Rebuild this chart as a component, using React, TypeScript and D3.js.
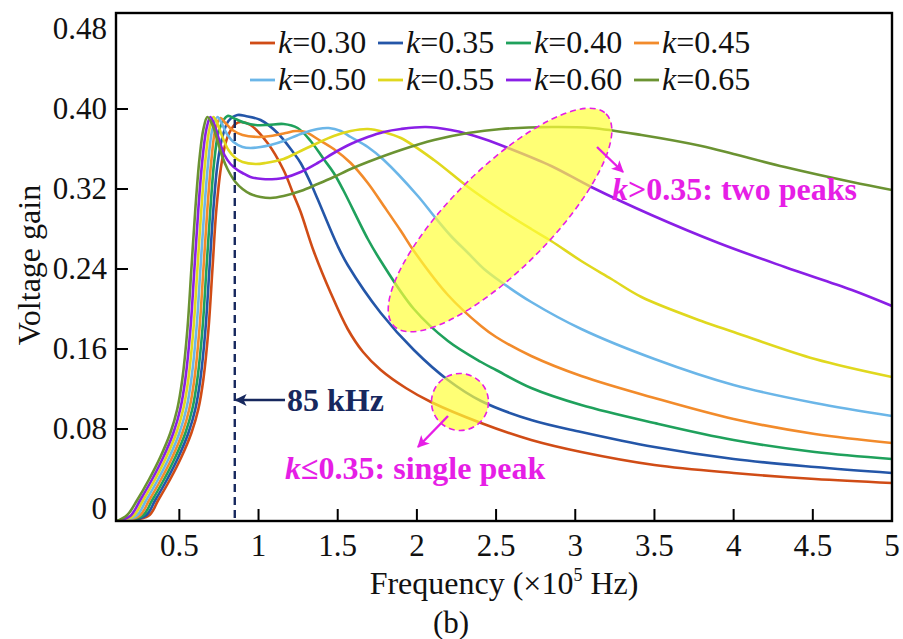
import React from 'react';
import * as d3 from 'd3';

// Voltage gain vs. frequency (×10^5 Hz) for several coupling coefficients k.

const WIDTH = 903;
const HEIGHT = 639;

const kValues = ['0.30', '0.35', '0.40', '0.45', '0.50', '0.55', '0.60', '0.65'];
const lineColors = ['#d04c16', '#2456a8', '#1fa15c', '#f28b2b', '#6bb6e8', '#e0d81e', '#8a1fe6', '#6b9332'];

type Pt = [number, number];

const gainK030: Pt[] = [
  [0.108, -0.012], [0.304, -0.007], [0.367, 0.009], [0.443, 0.03], [0.513, 0.052], [0.576, 0.076],
  [0.62, 0.1], [0.652, 0.13], [0.684, 0.18], [0.709, 0.24], [0.734, 0.3], [0.766, 0.345],
  [0.804, 0.372], [0.854, 0.385], [0.886, 0.387], [0.949, 0.384], [1.057, 0.366], [1.158, 0.339],
  [1.222, 0.314], [1.266, 0.297], [1.348, 0.258], [1.456, 0.216], [1.563, 0.18], [1.66, 0.157],
  [1.772, 0.139], [1.93, 0.121], [2.089, 0.107], [2.405, 0.086], [2.722, 0.069], [3.038, 0.057],
  [3.5, 0.044], [4.0, 0.036], [4.513, 0.03], [5.0, 0.026],
];

const gainK035: Pt[] = [
  [0.108, -0.012], [0.285, -0.007], [0.348, 0.009], [0.424, 0.03], [0.494, 0.052], [0.557, 0.076],
  [0.601, 0.1], [0.633, 0.13], [0.665, 0.18], [0.69, 0.24], [0.715, 0.3], [0.741, 0.345],
  [0.772, 0.372], [0.81, 0.388], [0.867, 0.394], [0.918, 0.393], [1.013, 0.389], [1.12, 0.376],
  [1.222, 0.356], [1.266, 0.346], [1.329, 0.326], [1.373, 0.31], [1.5, 0.263], [1.563, 0.244],
  [1.772, 0.196], [1.981, 0.159], [2.196, 0.129], [2.405, 0.108], [2.722, 0.089], [3.038, 0.077],
  [3.5, 0.062], [4.0, 0.05], [4.513, 0.042], [5.0, 0.036],
];

const gainK040: Pt[] = [
  [0.108, -0.012], [0.266, -0.007], [0.329, 0.009], [0.405, 0.03], [0.475, 0.052], [0.538, 0.076],
  [0.582, 0.1], [0.614, 0.13], [0.646, 0.18], [0.671, 0.24], [0.696, 0.3], [0.722, 0.35],
  [0.753, 0.38], [0.804, 0.393], [0.854, 0.39], [0.918, 0.386], [0.981, 0.384], [1.057, 0.384],
  [1.158, 0.385], [1.247, 0.381], [1.329, 0.368], [1.411, 0.35], [1.475, 0.336], [1.538, 0.318],
  [1.69, 0.27], [1.772, 0.248], [1.981, 0.2], [2.196, 0.168], [2.405, 0.147], [2.5, 0.139],
  [2.722, 0.121], [3.038, 0.104], [3.5, 0.086], [4.0, 0.069], [4.513, 0.057], [5.0, 0.05],
];

const gainK045: Pt[] = [
  [0.108, -0.012], [0.247, -0.007], [0.31, 0.009], [0.386, 0.03], [0.456, 0.052], [0.519, 0.076],
  [0.563, 0.1], [0.595, 0.13], [0.627, 0.18], [0.652, 0.24], [0.677, 0.3], [0.703, 0.35],
  [0.728, 0.38], [0.759, 0.391], [0.791, 0.386], [0.835, 0.379], [0.899, 0.374], [1.0, 0.372],
  [1.076, 0.373], [1.171, 0.376], [1.234, 0.378], [1.297, 0.377], [1.373, 0.37], [1.475, 0.36],
  [1.582, 0.346], [1.69, 0.326], [1.791, 0.303], [1.899, 0.278], [1.981, 0.258], [2.196, 0.214],
  [2.405, 0.183], [2.5, 0.172], [2.722, 0.153], [3.038, 0.133], [3.5, 0.111], [4.0, 0.09],
  [4.513, 0.075], [5.0, 0.066],
];

const gainK050: Pt[] = [
  [0.108, -0.012], [0.228, -0.007], [0.291, 0.009], [0.367, 0.03], [0.437, 0.052], [0.5, 0.076],
  [0.544, 0.1], [0.576, 0.13], [0.608, 0.18], [0.633, 0.24], [0.658, 0.3], [0.684, 0.35],
  [0.709, 0.38], [0.741, 0.392], [0.766, 0.386], [0.797, 0.376], [0.842, 0.367], [0.899, 0.362],
  [0.949, 0.361], [1.013, 0.362], [1.076, 0.364], [1.158, 0.368], [1.266, 0.375], [1.373, 0.38],
  [1.443, 0.381], [1.519, 0.378], [1.582, 0.372], [1.69, 0.362], [1.791, 0.349], [2.006, 0.313],
  [2.108, 0.293], [2.215, 0.273], [2.323, 0.256], [2.424, 0.24], [2.532, 0.227], [2.722, 0.207],
  [3.038, 0.18], [3.5, 0.15], [4.0, 0.124], [4.513, 0.106], [5.0, 0.093],
];

const gainK055: Pt[] = [
  [0.108, -0.012], [0.209, -0.007], [0.272, 0.009], [0.348, 0.03], [0.418, 0.052], [0.481, 0.076],
  [0.525, 0.1], [0.557, 0.13], [0.589, 0.18], [0.614, 0.24], [0.639, 0.3], [0.665, 0.35],
  [0.69, 0.38], [0.715, 0.392], [0.741, 0.385], [0.772, 0.372], [0.81, 0.359], [0.854, 0.351],
  [0.899, 0.347], [0.981, 0.345], [1.044, 0.346], [1.158, 0.35], [1.266, 0.358], [1.373, 0.366],
  [1.475, 0.373], [1.582, 0.378], [1.69, 0.38], [1.791, 0.377], [1.899, 0.371], [2.108, 0.349],
  [2.323, 0.322], [2.532, 0.299], [2.722, 0.28], [2.848, 0.268], [3.038, 0.248], [3.228, 0.23],
  [3.418, 0.212], [3.797, 0.188], [4.0, 0.177], [4.513, 0.15], [5.0, 0.132],
];

const gainK060: Pt[] = [
  [0.108, -0.012], [0.19, -0.007], [0.253, 0.009], [0.329, 0.03], [0.399, 0.052], [0.462, 0.076],
  [0.506, 0.1], [0.538, 0.13], [0.57, 0.18], [0.595, 0.24], [0.62, 0.3], [0.646, 0.35],
  [0.671, 0.38], [0.696, 0.392], [0.722, 0.384], [0.753, 0.368], [0.785, 0.354], [0.823, 0.345],
  [0.867, 0.339], [0.899, 0.336], [0.949, 0.332], [1.025, 0.33], [1.108, 0.33], [1.158, 0.331],
  [1.266, 0.337], [1.373, 0.346], [1.475, 0.356], [1.582, 0.365], [1.69, 0.372], [1.791, 0.377],
  [1.899, 0.38], [2.057, 0.382], [2.215, 0.379], [2.323, 0.375], [2.424, 0.37], [2.576, 0.361],
  [2.848, 0.343], [3.101, 0.322], [3.481, 0.294], [3.905, 0.266], [4.323, 0.242], [4.747, 0.219],
  [5.0, 0.203],
];

const gainK065: Pt[] = [
  [0.108, -0.012], [0.171, -0.006], [0.234, 0.009], [0.31, 0.03], [0.38, 0.052], [0.443, 0.076],
  [0.487, 0.1], [0.519, 0.13], [0.551, 0.18], [0.576, 0.24], [0.601, 0.3], [0.627, 0.35],
  [0.652, 0.38], [0.677, 0.392], [0.709, 0.384], [0.741, 0.368], [0.772, 0.352], [0.804, 0.34],
  [0.854, 0.327], [0.899, 0.32], [0.949, 0.315], [1.013, 0.312], [1.076, 0.311], [1.158, 0.313],
  [1.266, 0.318], [1.373, 0.325], [1.475, 0.332], [1.582, 0.34], [1.69, 0.347], [1.899, 0.359],
  [2.108, 0.369], [2.323, 0.376], [2.532, 0.38], [2.848, 0.382], [3.101, 0.381], [3.418, 0.374],
  [3.797, 0.363], [4.0, 0.355], [4.323, 0.342], [4.747, 0.327], [5.0, 0.319],
];

const gainSeries = [gainK030, gainK035, gainK040, gainK045, gainK050, gainK055, gainK060, gainK065];

const xTickValues = [0.5, 1, 1.5, 2, 2.5, 3, 3.5, 4, 4.5, 5];
const yTickValues = [0, 0.08, 0.16, 0.24, 0.32, 0.4, 0.48];

// Operating frequency marker, in ×10^5 Hz (85 kHz)
const markerFreq = 0.85;
const markerTop = 0.389;

// Highlight regions (centre in data units)
const twoPeakRegion = { f: 2.525, g: 0.289 };
const singlePeakRegion = { f: 2.272, g: 0.107 };

const SERIF = '"Liberation Serif", "Times New Roman", Times, serif';
const MAGENTA = '#e61ee6';
const NAVY = '#17285e';

export default function App() {
  const left = 116;
  const right = 892;
  const top = 13;
  const bottom = 521;

  const x = d3.scaleLinear().domain([0.1, 5]).range([left, right]);
  const y = d3.scaleLinear().domain([-0.012, 0.496]).range([bottom, top]);

  const line = d3
    .line<Pt>()
    .x((d) => x(d[0]))
    .y((d) => y(d[1]))
    .curve(d3.curveCatmullRom.alpha(0.5));

  const tickLen = 12;
  const mx = x(markerFreq);

  const ell = { cx: x(twoPeakRegion.f), cy: y(twoPeakRegion.g) };
  const circ = { cx: x(singlePeakRegion.f), cy: y(singlePeakRegion.g) };

  const legendCols = [250, 378, 506, 634];
  const legendRows = [43, 80];

  return (
    <svg
      width={WIDTH}
      height={HEIGHT}
      viewBox={`0 0 ${WIDTH} ${HEIGHT}`}
      style={{ position: 'absolute', left: 0, top: 0, background: '#fff' }}
      fontFamily={SERIF}
    >
      <defs>
        <clipPath id="plot-clip">
          <rect x={left} y={top} width={right - left} height={bottom - top} />
        </clipPath>
        <marker id="arrow-mag" viewBox="0 0 10 10" refX="9" refY="5" markerWidth="5" markerHeight="5" orient="auto">
          <path d="M0,0 L10,5 L0,10 L2.5,5 z" fill={MAGENTA} />
        </marker>
        <marker id="arrow-navy" viewBox="0 0 10 10" refX="9" refY="5" markerWidth="5" markerHeight="5" orient="auto">
          <path d="M0,0 L10,5 L0,10 L2.5,5 z" fill={NAVY} />
        </marker>
      </defs>

      <rect x={0} y={0} width={WIDTH} height={HEIGHT} fill="#fff" />

      <g clipPath="url(#plot-clip)">
        {gainSeries.map((s, i) => (
          <path key={kValues[i]} d={line(s) ?? ''} fill="none" stroke={lineColors[i]} strokeWidth={2.6} strokeLinejoin="round" />
        ))}

        {/* highlighted regions */}
        <ellipse
          cx={ell.cx}
          cy={ell.cy}
          rx={150}
          ry={50}
          transform={`rotate(-45 ${ell.cx} ${ell.cy})`}
          fill="#ffff3a"
          fillOpacity={0.7}
          stroke={MAGENTA}
          strokeWidth={1.6}
          strokeDasharray="6 4"
        />
        <circle
          cx={circ.cx}
          cy={circ.cy}
          r={28.5}
          fill="#ffff3a"
          fillOpacity={0.7}
          stroke={MAGENTA}
          strokeWidth={1.6}
          strokeDasharray="6 4"
        />

        {/* 85 kHz marker */}
        <line x1={mx} x2={mx} y1={y(markerTop)} y2={bottom} stroke={NAVY} strokeWidth={2.4} strokeDasharray="8 5" />
      </g>

      {/* frame */}
      <rect x={left} y={top} width={right - left} height={bottom - top} fill="none" stroke="#000" strokeWidth={2.4} />

      {/* x ticks */}
      {xTickValues.map((t) => (
        <g key={`x${t}`}>
          {t < 5 && <line x1={x(t)} x2={x(t)} y1={bottom} y2={bottom - tickLen} stroke="#000" strokeWidth={2} />}
          <text x={x(t)} y={556} fontSize={31} textAnchor="middle" fill="#111">
            {String(t)}
          </text>
        </g>
      ))}

      {/* y ticks */}
      {yTickValues.map((t) => (
        <g key={`y${t}`}>
          {t > 0 && t < 0.45 && (
            <line x1={left} x2={left + tickLen} y1={y(t)} y2={y(t)} stroke="#000" strokeWidth={2} />
          )}
          <text x={107} y={y(t) + 10} fontSize={31} textAnchor="end" fill="#111">
            {t === 0 ? '0' : t.toFixed(2)}
          </text>
        </g>
      ))}

      {/* axis titles */}
      <text x={(left + right) / 2} y={594} fontSize={32} textAnchor="middle" fill="#111">
        Frequency (×10
        <tspan fontSize={18} dy={-13}>5</tspan>
        <tspan dy={13}> Hz)</tspan>
      </text>
      <text transform="translate(40,265) rotate(-90)" fontSize={32} textAnchor="middle" fill="#111">
        Voltage gain
      </text>
      <text x={451} y={633} fontSize={31} textAnchor="middle" fill="#111">
        (b)
      </text>

      {/* legend */}
      {kValues.map((k, i) => {
        const cx = legendCols[i % 4];
        const cy = legendRows[Math.floor(i / 4)];
        return (
          <g key={`lg${k}`}>
            <line x1={cx} x2={cx + 25} y1={cy} y2={cy} stroke={lineColors[i]} strokeWidth={2.8} />
            <text x={cx + 28} y={cy + 10} fontSize={32} fill="#111">
              <tspan fontStyle="italic">k</tspan>={k}
            </text>
          </g>
        );
      })}

      {/* annotations */}
      <line x1={285} y1={400} x2={mx + 1} y2={400} stroke={NAVY} strokeWidth={2.4} markerEnd="url(#arrow-navy)" />
      <text x={287} y={411} fontSize={32} fontWeight="bold" fill={NAVY}>
        85 kHz
      </text>

      <line x1={597} y1={147} x2={623} y2={172} stroke={MAGENTA} strokeWidth={2.4} markerEnd="url(#arrow-mag)" />
      <text x={612} y={200} fontSize={32} fontWeight="bold" fill={MAGENTA}>
        <tspan fontStyle="italic">k</tspan>&gt;0.35: two peaks
      </text>

      <line x1={448} y1={416} x2={418} y2={447} stroke={MAGENTA} strokeWidth={2.4} markerEnd="url(#arrow-mag)" />
      <text x={285} y={479} fontSize={32} fontWeight="bold" fill={MAGENTA}>
        <tspan fontStyle="italic">k</tspan>≤0.35: single peak
      </text>
    </svg>
  );
}
